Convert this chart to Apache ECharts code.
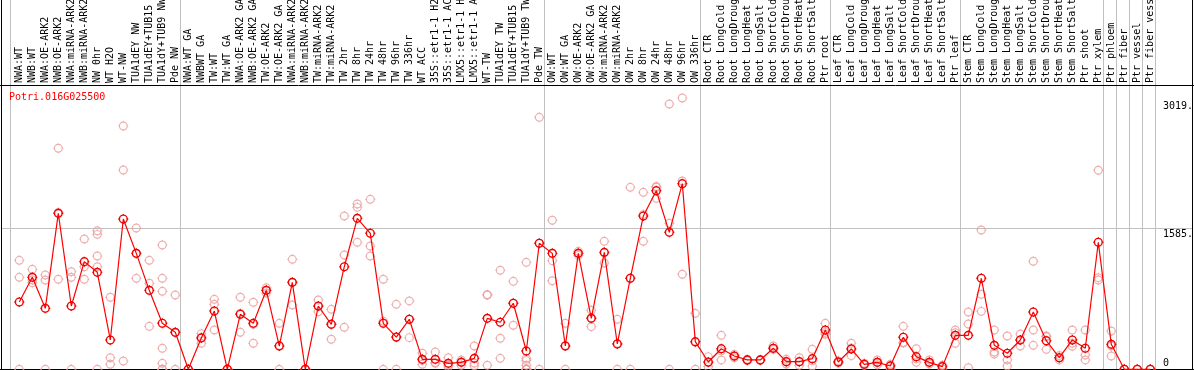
<!DOCTYPE html>
<html><head><meta charset="utf-8">
<script src="https://cdn.jsdelivr.net/npm/echarts@6/dist/echarts.min.js"></script>
<style>html,body{margin:0;padding:0;background:#fff}#c{width:1194px;height:370px}</style>
</head><body><div id="c"></div>
<script>
const categories = ["NWA:WT","NWB:WT","NWA:OE-ARK2","NWB:OE-ARK2","NWA:miRNA-ARK2","NWB:miRNA-ARK2","NW 0hr","WT H2O","WT-NW","TUA1dEY NW","TUA1dEY+TUB15 NW","TUA1dY+TUB9 NW","Pde NW",
"NWA:WT GA","NWBWT GA","TW:WT","TW:WT GA","NWA:OE-ARK2 GA","NWB:OE-ARK2 GA","TW:OE-ARK2","TW:OE-ARK2 GA","NWA:miRNA-ARK2 GA","NWB:miRNA-ARK2 GA","TW:miRNA-ARK2","TW:miRNA-ARK2 GA","TW 2hr","TW 8hr","TW 24hr","TW 48hr","TW 96hr","TW 336hr","WT ACC","35S::etr1-1 H2O","35S::etr1-1 ACC","LMX5::etr1-1 H2O","LMX5::etr1-1 ACC","WT-TW","TUA1dEY TW","TUA1dEY+TUB15 TW","TUA1dY+TUB9 TW","Pde TW",
"OW:WT","OW:WT GA","OW:OE-ARK2","OW:OE-ARK2 GA","OW:miRNA-ARK2","OW:miRNA-ARK2 GA","OW 2hr","OW 8hr","OW 24hr","OW 48hr","OW 96hr","OW 336hr",
"Root CTR","Root LongCold","Root LongDrought","Root LongHeat","Root LongSalt","Root ShortCold","Root ShortDrought","Root ShortHeat","Root ShortSalt","Ptr root",
"Leaf CTR","Leaf LongCold","Leaf LongDrought","Leaf LongHeat","Leaf LongSalt","Leaf ShortCold","Leaf ShortDrought","Leaf ShortHeat","Leaf ShortSalt","Ptr leaf",
"Stem CTR","Stem LongCold","Stem LongDrought","Stem LongHeat","Stem LongSalt","Stem ShortCold","Stem ShortDrought","Stem ShortHeat","Stem ShortSalt","Ptr shoot",
"Ptr xylem","Ptr phloem","Ptr fiber","Ptr vessel","Ptr fiber vessel"];

const meanValues = [755,1032,684,1750,710,1208,1088,329,1686,1301,886,516,415,
0,351,654,0,617,516,886,261,976,0,710,505,1151,1694,1526,516,362,561,112,112,67,78,123,572,528,741,205,1414,
1301,261,1301,572,1312,284,1021,1720,2004,1537,2083,310,
82,231,149,105,105,236,86,86,119,441,
82,228,56,78,37,359,142,78,30,381,
381,1021,269,180,329,643,321,130,329,236,
1425,280,0,0,0];

const replicates = [
[1223,1032,0],[1122,1002,972],[1058,1002,0],[2480,1760,1010],[1095,1032,0],[1462,1151,1010],[1555,1514,1271,1151,0],[808,130,56],[2730,2236,93],[1585,1297,1021],[1223,965,482],[1395,1021,875,236,67,0,0],[834,411,0],
[0,0,0],[400,361,292],[785,729,441],[0,0,0],[808,628,415],[752,504,292],[916,886,856],[516,267,0],[1234,973,721],[0,0,0],[778,706,646],[673,505,337],[1720,1282,471],[1855,1817,1425],[1907,1383,1271],[1010,538,0],[729,357,0],[767,561,355],[180,100,56],[194,75,67],[130,45,26],[105,84,45],[261,70,40],[837,834,45],[1111,348,123],[987,742,494],[1200,123,100,45,0,0,0],[2827,1415,0],
[1672,1219,994],[516,267,0],[1324,1301,1278],[662,576,478],[1436,1307,1193],[561,291,0],[2042,1021,0],[1986,1738,1436],[2052,2042,1918],[2977,1638,0],[3044,2113,1066],[628,302,0],
[142,74,30],[381,207,105],[168,149,130],[112,105,97],[110,105,100],[261,236,224],[112,86,60],[130,86,45],[224,96,37],[516,414,393],
[95,82,69],[292,239,153],[67,56,45],[105,78,52],[56,45,10],[482,298,297],[231,117,78],[105,78,60],[45,40,5],[441,410,292],
[643,508,18],[1563,841,650],[441,194,172],[374,105,37],[396,330,261],[1212,441,269],[373,366,224],[155,130,105],[441,292,258],[441,160,105],
[2233,1028,1002],[430,261,149],[0,0,0],[0,0,0],[0,0,0]];

const yTickLabels = [3019, 1585, 0];
const groupBoundaries = [-0.7, 12.4, 40.4, 52.4, 62.4, 72.4, 83.4, 84.4, 85.4, 86.4, 87.4];
const geneName = "Potri.016G025500";

const FONT = "DejaVu Sans Mono";
const sym = 'path://M2,9A7,7,0,1,0,16,9A7,7,0,1,0,2,9Z M9,0L9,2 M9,16L9,18 M0,9L2,9 M16,9L18,9';

const scatterData = [];
replicates.forEach((arr, i) => arr.forEach(v => scatterData.push([i, v])));

const chart = echarts.init(document.getElementById('c'), null, {renderer: 'canvas'});
chart.setOption({
  animation: false,
  backgroundColor: '#fff',
  grid: {left: 12.8, right: 37.2, top: 85, bottom: 0.7, containLabel: false, outerBoundsMode: 'none'},
  xAxis: {
    type: 'category', data: categories, position: 'top', boundaryGap: true,
    axisLine: {show: false}, axisTick: {show: false}, splitLine: {show: false},
    axisLabel: {interval: 0, rotate: 90, margin: 2, fontFamily: FONT, fontSize: 10, color: '#000', hideOverlap: false}
  },
  yAxis: {
    type: 'value', min: 0, max: 3190, show: false, splitLine: {show: false}
  },
  series: [
    {
      type: 'scatter', data: scatterData, symbol: sym, symbolSize: 10, z: 2, silent: true,
      itemStyle: {color: 'rgba(0,0,0,0)', borderColor: '#eb9a9a', borderWidth: 1.2}
    },
    {
      type: 'line', data: meanValues, symbol: sym, symbolSize: 10, z: 3, silent: true,
      lineStyle: {color: '#ff0000', width: 1.2},
      itemStyle: {color: 'rgba(0,0,0,0)', borderColor: '#ee0000', borderWidth: 1.4}
    }
  ]
});

const c0 = chart.convertToPixel({xAxisIndex: 0}, 0);
const c1 = chart.convertToPixel({xAxisIndex: 0}, 1);
const step = c1 - c0;
const yPix = v => chart.convertToPixel({yAxisIndex: 0}, v);
const W = 1194, H = 370;
const crisp = v => Math.round(v) + 0.5;
const g = [];
const lineEl = (x1, y1, x2, y2, color, z) => ({type: 'line', silent: true, z: z || 0,
  shape: {x1, y1, x2, y2}, style: {stroke: color, lineWidth: 1}});

groupBoundaries.forEach(p => {
  const x = crisp(c0 + step * p);
  g.push(lineEl(x, 0, x, H, '#c0c0c0', 0));
});
const y1585 = crisp(yPix(1585));
g.push(lineEl(1, y1585, W - 1, y1585, '#c0c0c0', 0));
// frame
g.push(lineEl(0, 85.5, W, 85.5, '#000', 1));
g.push(lineEl(1.5, 0, 1.5, H, '#000', 1));
g.push(lineEl(W - 1.5, 0, W - 1.5, H, '#000', 1));
g.push(lineEl(0, 369.5, W, 369.5, '#000', 1));

yTickLabels.forEach(v => {
  const y = yPix(v);
  const bottom = v === 0;
  g.push({type: 'text', silent: true, z: 5, x: 1163, y: bottom ? 368 : y + 1,
    style: {text: v === 0 ? '0' : v + '.', fontFamily: FONT, fontSize: 10, fill: '#000',
      textAlign: 'left', textVerticalAlign: bottom ? 'bottom' : 'top'}});
});
g.push({type: 'text', silent: true, z: 5, x: 9, y: 92,
  style: {text: geneName, fontFamily: FONT, fontSize: 10, fill: '#ff0000', textAlign: 'left', textVerticalAlign: 'top'}});

chart.setOption({graphic: g});
</script>
</body></html>
